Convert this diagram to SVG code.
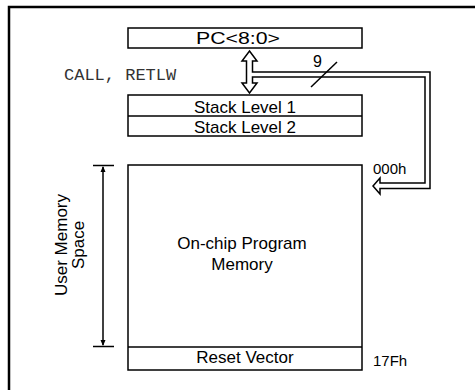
<svg xmlns="http://www.w3.org/2000/svg" width="475" height="390" viewBox="0 0 475 390">
<style>
.box{fill:#fff;stroke:#000;stroke-width:1.5}
.t{font-family:"Liberation Sans",Arial,sans-serif;font-size:17px;fill:#000;text-anchor:middle}
.s{font-family:"Liberation Sans",Arial,sans-serif;font-size:15px;fill:#000}
.m{font-family:"Liberation Mono","Courier New",monospace;font-size:17px;fill:#333}
.ln{fill:none;stroke:#000;stroke-width:1.5}
</style>
<defs>
<marker id="ah" markerWidth="6" markerHeight="6" refX="5" refY="3" orient="auto" markerUnits="userSpaceOnUse">
<path d="M0,0.5 L6,3 L0,5.5 Z" fill="#000"/>
</marker>
</defs>
<rect width="475" height="390" fill="#fff"/>
<path d="M9,390 V7 H475" fill="none" stroke="#000" stroke-width="2.5"/>
<g id="pc">
<rect class="box" x="128" y="28" width="234" height="20"/>
<text class="t" x="238" y="44" textLength="84" lengthAdjust="spacingAndGlyphs">PC&lt;8:0&gt;</text>
</g>
<g id="stack">
<rect class="box" x="128" y="95" width="234" height="41"/>
<line class="ln" x1="128" y1="116" x2="362" y2="116"/>
<text class="t" x="245" y="113">Stack Level 1</text>
<text class="t" x="245" y="133">Stack Level 2</text>
</g>
<g id="memory">
<rect class="box" x="128" y="165" width="234" height="205"/>
<line class="ln" x1="128" y1="347" x2="362" y2="347"/>
<text class="t" x="242" y="249">On-chip Program</text>
<text class="t" x="242" y="270">Memory</text>
<text class="t" x="245" y="363">Reset Vector</text>
<text class="s" x="373" y="174">000h</text>
<text class="s" x="373" y="366">17Fh</text>
</g>
<g id="userspace">
<line class="ln" x1="93" y1="165.5" x2="114" y2="165.5"/>
<line class="ln" x1="93" y1="346.5" x2="114" y2="346.5"/>
<line class="ln" x1="103" y1="250" x2="103" y2="167" marker-end="url(#ah)"/>
<line class="ln" x1="103" y1="250" x2="103" y2="345" marker-end="url(#ah)"/>
<text class="t" transform="translate(67,245) rotate(-90)">User Memory</text>
<text class="t" transform="translate(84,245) rotate(-90)">Space</text>
</g>
<g id="connectors">
<path class="ln" d="M249.5,51 L257,61 L252.5,61 L252.5,72 L430,72 L430,188.5 L380,188.5 L380,194 L373,186 L380,178 L380,183 L425,183 L425,77 L252.5,77 L252.5,83 L257,83 L249.5,93 L242,83 L246.5,83 L246.5,61 L242,61 Z" style="fill:#fff"/>
<line class="ln" x1="311" y1="87" x2="337" y2="62"/>
<text class="s" x="313" y="67" style="font-size:16px">9</text>
<text class="m" x="64" y="80">CALL, RETLW</text>
</g>
</svg>
